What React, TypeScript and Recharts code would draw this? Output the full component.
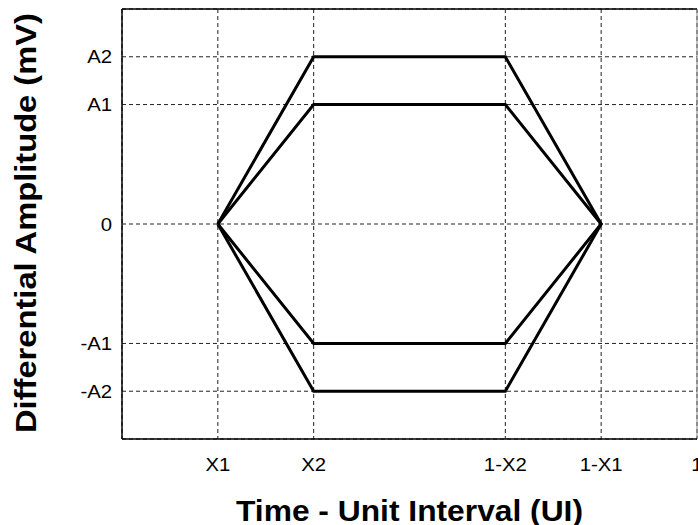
import {
  LineChart,
  Line,
  XAxis,
  YAxis,
  CartesianGrid,
  ReferenceLine,
  Label,
} from "recharts";

// eye mask corners, x in sixths of a UI, y in ninths of full scale
const outerMask = [
  { x: 1, y: 0 },
  { x: 2, y: 7 },
  { x: 4, y: 7 },
  { x: 5, y: 0 },
  { x: 4, y: -7 },
  { x: 2, y: -7 },
  { x: 1, y: 0 },
];
const innerMask = [
  { x: 1, y: 0 },
  { x: 2, y: 5 },
  { x: 4, y: 5 },
  { x: 5, y: 0 },
  { x: 4, y: -5 },
  { x: 2, y: -5 },
  { x: 1, y: 0 },
];

const xTicks = [1, 2, 4, 5, 6];
const xTickLabels = ["X1", "X2", "1-X2", "1-X1", "1"];
const yTicks = [-7, -5, 0, 5, 7];
const yTickLabels = ["-A2", "-A1", "0", "A1", "A2"];

const FONT = '"Liberation Sans", Arial, Helvetica, sans-serif';

const XTick = (props: any) => {
  const { x, y, payload } = props;
  const i = xTicks.indexOf(payload.value);
  return (
    <g transform={`translate(${x},${y + 32}) scale(1.13,1)`}>
      <text x={0} y={0} textAnchor="middle" fontSize={18} fontFamily={FONT} fill="#000">
        {xTickLabels[i]}
      </text>
    </g>
  );
};

const YTick = (props: any) => {
  const { x, y, payload } = props;
  const i = yTicks.indexOf(payload.value);
  return (
    <g transform={`translate(${x},${y + 6.5}) scale(1.13,1)`}>
      <text x={0} y={0} textAnchor="end" fontSize={18} fontFamily={FONT} fill="#000">
        {yTickLabels[i]}
      </text>
    </g>
  );
};

const XTitle = (props: any) => {
  const vb = props.viewBox;
  return (
    <text
      x={vb.x + vb.width / 2}
      y={vb.y + 81.5}
      textAnchor="middle"
      fontSize={29}
      fontWeight="bold"
      fontFamily={FONT}
      textLength={347}
      lengthAdjust="spacingAndGlyphs"
      fill="#000"
    >
      Time - Unit Interval (UI)
    </text>
  );
};

const YTitle = (props: any) => {
  const vb = props.viewBox;
  const cy = vb.y + vb.height / 2 - 1;
  return (
    <text
      x={36}
      y={cy}
      transform={`rotate(-90, 36, ${cy})`}
      textAnchor="middle"
      fontSize={29}
      fontWeight="bold"
      fontFamily={FONT}
      textLength={420}
      lengthAdjust="spacingAndGlyphs"
      fill="#000"
    >
      Differential Amplitude (mV)
    </text>
  );
};

export default function App() {
  return (
    <div style={{ position: "absolute", left: 0, top: 0 }}>
      <LineChart width={698} height={525} margin={{ top: 9, right: 1, bottom: 0, left: 0 }}>
        <CartesianGrid stroke="#222" strokeDasharray="4 3" strokeWidth={1} />
        <XAxis
          type="number"
          dataKey="x"
          domain={[0, 6]}
          ticks={xTicks}
          height={86}
          tickSize={0}
          tickMargin={0}
          tickLine={false}
          tick={XTick}
          axisLine={{ stroke: "#000", strokeWidth: 1.5 }}
          interval={0}
        >
          <Label content={XTitle} />
        </XAxis>
        <YAxis
          type="number"
          dataKey="y"
          domain={[-9, 9]}
          ticks={yTicks}
          width={122}
          tickSize={0}
          tickMargin={10}
          tickLine={false}
          tick={YTick}
          axisLine={{ stroke: "#000", strokeWidth: 1.5 }}
          interval={0}
        >
          <Label content={YTitle} />
        </YAxis>
        <ReferenceLine y={9} stroke="#000" strokeWidth={1.5} />
        <ReferenceLine x={6} stroke="#888" strokeWidth={1} />
        <Line
          data={outerMask}
          dataKey="y"
          stroke="#000"
          strokeWidth={3}
          dot={false}
          type="linear"
          isAnimationActive={false}
        />
        <Line
          data={innerMask}
          dataKey="y"
          stroke="#000"
          strokeWidth={3}
          dot={false}
          type="linear"
          isAnimationActive={false}
        />
      </LineChart>
    </div>
  );
}
